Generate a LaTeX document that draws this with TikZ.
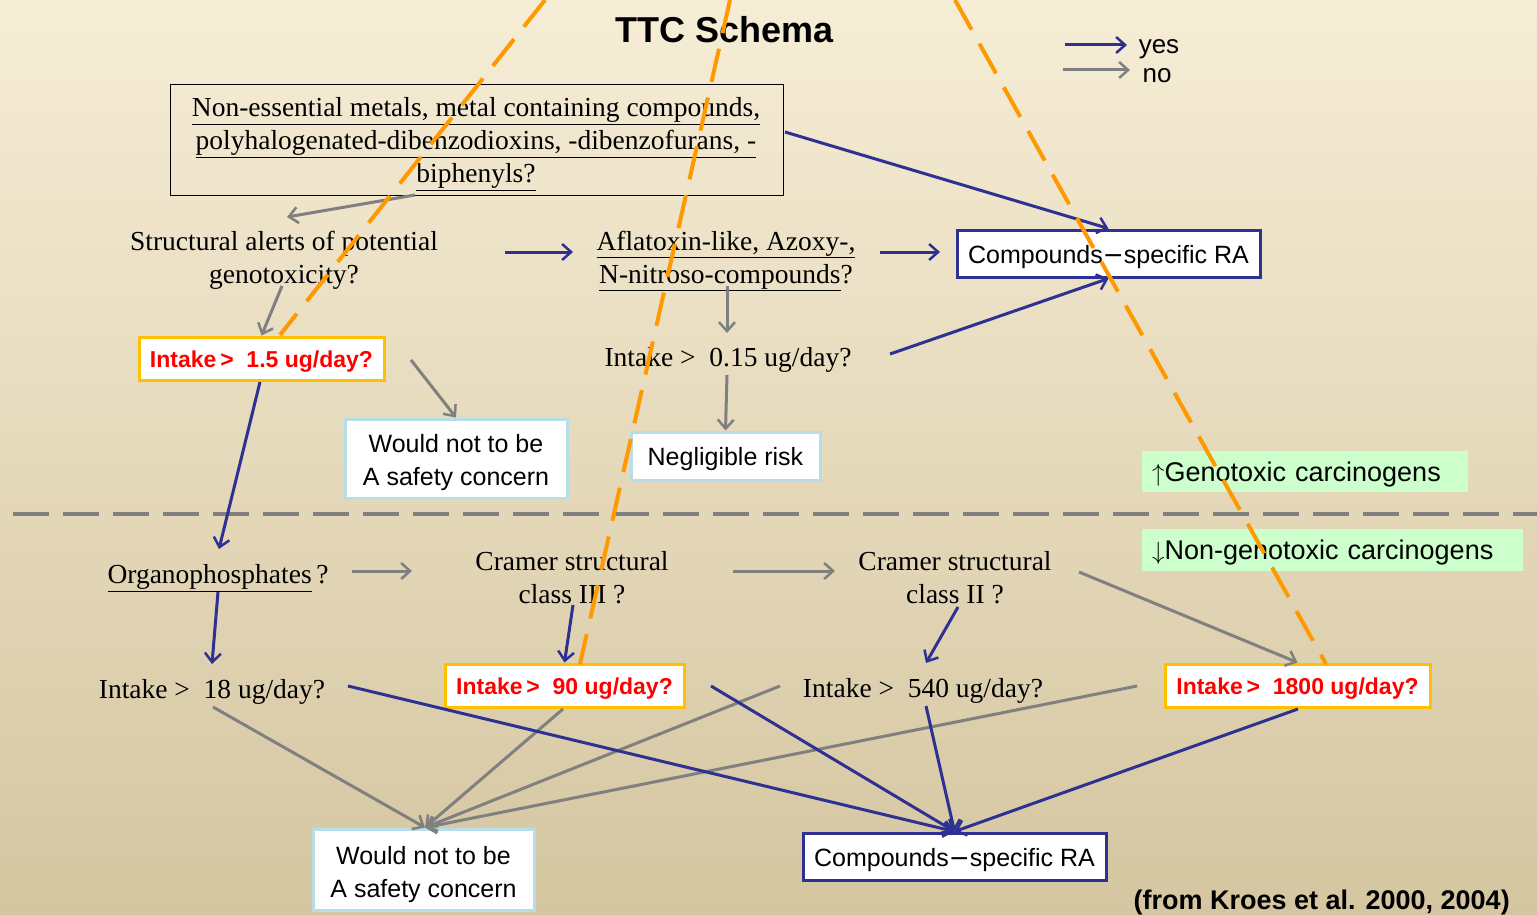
\documentclass[tikz,border=0pt]{standalone}
\usepackage{fontspec}
\setmainfont{Liberation Serif}
\setsansfont{Liberation Sans}
\usetikzlibrary{arrows.meta,calc}
\definecolor{bgtop}{RGB}{246,237,214}
\definecolor{bgbot}{RGB}{213,198,161}
\definecolor{yesblue}{RGB}{46,49,146}
\definecolor{nogray}{RGB}{128,128,128}
\definecolor{ttcorange}{RGB}{255,153,0}
\definecolor{boxorange}{RGB}{255,192,0}
\definecolor{boxcyan}{RGB}{183,222,232}
\definecolor{labgreen}{RGB}{204,255,204}
\definecolor{intred}{RGB}{255,0,0}
\begin{document}
\begin{tikzpicture}[x=1pt,y=-1pt,
  tipend/.style={-{Straight Barb[length=9pt,width=16pt,line width=2.5pt]}},
  yes/.style={tipend,draw=yesblue,line width=3pt},
  no/.style={tipend,draw=nogray,line width=3pt},
  serif/.style={font=\fontsize{27.5}{33}\selectfont,align=center,inner sep=0pt},
  sanstxt/.style={font=\sffamily\fontsize{25}{33}\selectfont,align=center},
  crabox/.style={sanstxt,draw=yesblue,line width=3pt,fill=white,minimum width=303pt,minimum height=47pt,inner sep=0pt,text height=21pt,text depth=2pt},
  safebox/.style={sanstxt,draw=boxcyan,line width=3pt,fill=white,inner sep=0pt},
  intbox/.style={draw=boxorange,line width=3pt,fill=white,minimum height=43pt,inner sep=0pt,text=intred,font=\sffamily\bfseries\fontsize{23}{25}\selectfont,text height=18pt,text depth=1pt},
  greenlab/.style={fill=labgreen,inner sep=0pt,font=\sffamily\fontsize{27}{30}\selectfont,anchor=west,text height=22pt,text depth=3pt},
  orange/.style={draw=ttcorange,line width=4pt,dash pattern=on 34pt off 16pt}
]
\useasboundingbox (0,0) rectangle (1537,915);
\shade[top color=bgtop,bottom color=bgbot] (0,0) rectangle (1537,915);

% title and legend
\node[font=\sffamily\bfseries\fontsize{36}{38}\selectfont] (title) at (725,30) {TTC Schema};
\node[font=\sffamily\fontsize{26}{30}\selectfont,inner sep=0pt] (lyes) at (1159,49) {yes};
\node[font=\sffamily\fontsize{26}{30}\selectfont,inner sep=0pt] (lno) at (1157,76) {no};
\coordinate (lyesA) at (1065,45);
\coordinate (lnoA) at (1063,70);
\draw[yes] (lyesA) -- ++(62,0);
\draw[no] (lnoA) -- ++(67,0);

% dashed separator
\coordinate (sepL) at (13,514);
\coordinate (sepR) at (1537,514);
\draw[nogray,line width=4pt,dash pattern=on 36pt off 14pt] (sepL) -- (sepR);

% upper part
\node[draw=black,line width=1pt,minimum width=613pt,minimum height=110pt] (metals) at (476.5,140) {};
\node[serif] (metalstxt) at (476,144)
  {\underline{Non-essential metals, metal containing compounds,}\\
   \underline{polyhalogenated-dibenzodioxins, -dibenzofurans, -}\\
   \underline{biphenyls?}};
\node[serif] (alerts) at (284,260) {Structural alerts of potential\\genotoxicity?};
\node[serif] (afla) at (726,261) {\underline{Aflatoxin-like, Azoxy-,}\\\underline{N-nitroso-compounds}?};
\node[crabox] (cra1) at (1108.5,253.5) {Compounds{\fontspec{DejaVu Sans}\char"2212}specific RA};
\node[intbox,minimum width=245pt] (int15) at (261.5,358.5) {Intake\,>\ \ 1.5 ug/day?};
\node[serif] (int015) at (728,360) {Intake >\ \ 0.15 ug/day?};
\node[safebox,minimum width=222pt,minimum height=79pt] (safe1) at (456,458.5) {};
\node[sanstxt,inner sep=0pt] (safe1txt) at (456,463) {Would not to be\\A safety concern};
\node[safebox,minimum width=189pt,minimum height=48pt,text height=21pt,text depth=2pt] (neg) at (725.5,456) {Negligible risk};
\node[greenlab,minimum width=326pt,minimum height=41pt,text width=318pt,align=left] (gen) at (1142,471.5) {\hspace*{6pt}$\uparrow$Genotoxic carcinogens};
\node[greenlab,minimum width=381pt,minimum height=42pt,text width=373pt,align=left] (nongen) at (1142,550) {\hspace*{6pt}$\downarrow$Non-genotoxic carcinogens};

% lower part
\node[serif] (organo) at (218,578) {\underline{Organophosphates}\,?};
\node[serif] (cram3) at (572,578) {Cramer structural\\class III ?};
\node[serif] (cram2) at (955,578) {Cramer structural\\class II ?};
\node[serif] (int18) at (212,692) {Intake >\ \ 18 ug/day?};
\node[intbox,minimum width=239pt] (int90) at (564.5,685.5) {Intake\,>\ \ 90 ug/day?};
\node[serif] (int540) at (923,691) {Intake >\ \ 540 ug/day?};
\node[intbox,minimum width=265pt] (int1800) at (1297.5,685.5) {Intake\,>\ \ 1800 ug/day?};
\node[safebox,minimum width=221pt,minimum height=81pt] (safe2) at (423.5,869.5) {};
\node[sanstxt,inner sep=0pt] (safe2txt) at (423.5,875) {Would not to be\\A safety concern};
\node[crabox] (cra2) at (954.5,856.5) {Compounds{\fontspec{DejaVu Sans}\char"2212}specific RA};
\node[font=\sffamily\bfseries\fontsize{27}{28}\selectfont,anchor=east,inner sep=0pt] (credit) at (1510,903) {(from Kroes et al. 2000, 2004)};

% connector end points
\coordinate (mS) at (415,195);
\coordinate (alertsN) at (287,217);
\coordinate (mE) at (785,132);
\coordinate (alertsE) at (505,252);
\coordinate (aflaW) at (573,252);
\coordinate (aflaE) at (880,252);
\coordinate (cra1W) at (940,252);
\coordinate (alertsS) at (282,286);
\coordinate (aflaS) at (727,286);
\coordinate (i015N) at (727,333);
\coordinate (i015S) at (727,375);
\coordinate (i015E) at (890,354);
\coordinate (i15E) at (411,360);
\coordinate (i15S) at (260,382);
\coordinate (organoN) at (219,549);
\coordinate (organoE) at (352,571);
\coordinate (cram3W) at (412,571);
\coordinate (cram3E) at (733,571);
\coordinate (cram2W) at (835,571);
\coordinate (cram2E) at (1079,572);
\coordinate (organoS) at (218,592);
\coordinate (i18N) at (212,664);
\coordinate (cram3S) at (573,605);
\coordinate (cram2S) at (958,607);
\coordinate (i540N) at (926,663);
\coordinate (i18S) at (213,707);
\coordinate (i18E) at (348,686);
\coordinate (i90E) at (711,686);
\coordinate (i540W) at (780,686);
\coordinate (i540S) at (926,706);
\coordinate (i540E) at (1137,686);
\coordinate (i1800S) at (1298,709);
\coordinate (i90S) at (563,709);

% upper connectors
\draw[no] (mS) -- (alertsN);
\draw[yes] (mE) -- (cra1.north);
\draw[yes] (alertsE) -- (aflaW);
\draw[yes] (aflaE) -- (cra1W);
\draw[no] (alertsS) -- (int15.north);
\draw[no] (aflaS) -- (i015N);
\draw[no] (i015S) -- (neg.north);
\draw[yes] (i015E) -- (cra1.south);
\draw[no] (i15E) -- (safe1.north);
\draw[yes] (i15S) -- (organoN);

% lower connectors
\draw[no] (organoE) -- (cram3W);
\draw[no] (cram3E) -- (cram2W);
\draw[no] (cram2E) -- (int1800.north);
\draw[yes] (organoS) -- (i18N);
\draw[yes] (cram3S) -- (int90.north);
\draw[yes] (cram2S) -- (i540N);
\draw[no] (i18S) -- ($(safe2.north)+(1.5,0)$);
\draw[no] (i90S) -- ($(safe2.north)+(1.5,0)$);
\draw[no] (i540W) -- ($(safe2.north)+(1.5,0)$);
\draw[no] (i540E) -- ($(safe2.north)+(1.5,0)$);
\draw[yes] (i18E) -- (cra2.north);
\draw[yes] (i90E) -- (cra2.north);
\draw[yes] (i540S) -- (cra2.north);
\draw[yes] (i1800S) -- (cra2.north);

% orange dashed lines
\coordinate (o1a) at (545,0);
\coordinate (o1b) at (280,335);
\coordinate (o2a) at (730,0);
\coordinate (o2b) at (580,664);
\coordinate (o3a) at (955,0);
\coordinate (o3b) at (1326,664);
\draw[orange] (o1a) -- (o1b);
\draw[orange] (o2a) -- (o2b);
\draw[orange] (o3a) -- (o3b);
\end{tikzpicture}
\end{document}
